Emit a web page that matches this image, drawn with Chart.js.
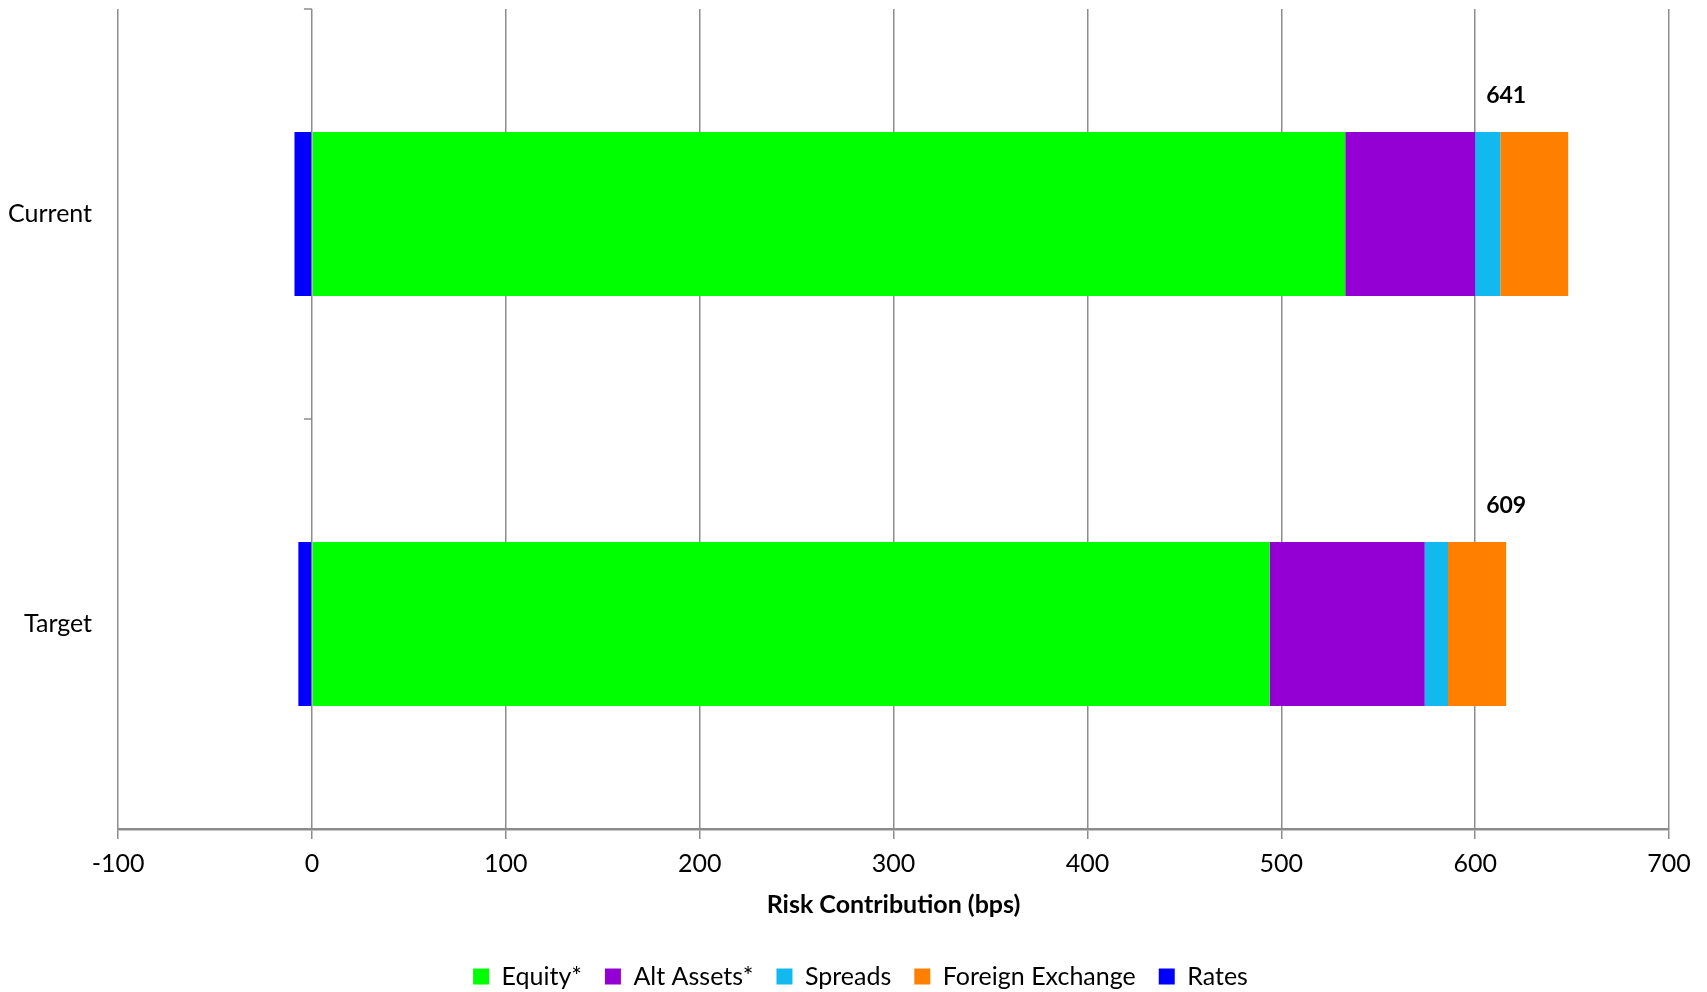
<!DOCTYPE html>
<html>
<head>
<meta charset="utf-8">
<script src="https://cdn.jsdelivr.net/npm/chart.js@4.4.1/dist/chart.umd.min.js"></script>
<style>
  html, body { margin: 0; padding: 0; background: #fff; }
  #wrap { width: 1707px; height: 992px; }
</style>
</head>
<body>
<div id="wrap"><canvas id="myChart"></canvas></div>
<script>
// data
var categories = ["Current", "Target"];
var equity = [533, 494];
var altAssets = [67, 80];
var spreads = [13, 12];
var foreignExchange = [35, 30];
var rates = [-9, -7];
var totals = ["641", "609"];
var totalPos = [616, 616];
var xMin = -100, xMax = 700, xStep = 100;

var gridGray = "#8c8c8c";
var font = "Lato";

// small tick marks on the zero line + total labels
var extras = {
  id: "extras",
  afterLayout: function(chart) {
    // legend sits a bit right of the canvas centre in the original
    chart.legend.left += 22;
    chart.legend.right += 22;
  },
  afterDatasetsDraw: function(chart) {
    var ctx = chart.ctx;
    var xs = chart.scales.x, ys = chart.scales.y;
    var x0 = xs.getPixelForValue(0);
    var marks = [ys.top, (ys.top + ys.bottom) / 2, ys.bottom];
    ctx.save();
    ctx.strokeStyle = gridGray;
    ctx.lineWidth = 1.5;
    marks.forEach(function(y) {
      ctx.beginPath();
      ctx.moveTo(x0 - 8, y);
      ctx.lineTo(x0, y);
      ctx.stroke();
    });
    var meta = chart.getDatasetMeta(0);
    ctx.fillStyle = "#000";
    ctx.font = "bold 23px " + font;
    ctx.textAlign = "center";
    ctx.textBaseline = "middle";
    meta.data.forEach(function(el, i) {
      ctx.fillText(totals[i], xs.getPixelForValue(totalPos[i]), el.y - el.height / 2 - 36);
    });
    ctx.restore();
  }
};

new Chart("myChart", {
  type: "bar",
  data: {
    labels: categories,
    datasets: [
      { label: "Equity*", data: equity, backgroundColor: "#00ff00" },
      { label: "Alt Assets*", data: altAssets, backgroundColor: "#9400d3" },
      { label: "Spreads", data: spreads, backgroundColor: "#12b9ee" },
      { label: "Foreign Exchange", data: foreignExchange, backgroundColor: "#ff8000" },
      { label: "Rates", data: rates, backgroundColor: "#0000ff" }
    ]
  },
  options: {
    indexAxis: "y",
    responsive: true,
    maintainAspectRatio: false,
    animation: false,
    categoryPercentage: 1,
    barPercentage: 0.4,
    layout: { padding: { top: 9, left: 8, right: 38, bottom: -7 } },
    scales: {
      x: {
        stacked: true,
        min: xMin,
        max: xMax,
        ticks: { stepSize: xStep, color: "#000", font: { family: font, size: 25 }, padding: 10 },
        grid: { color: gridGray, lineWidth: 1.5, tickLength: 10 },
        border: { color: gridGray, width: 2.5 },
        title: {
          display: true,
          text: "Risk Contribution (bps)",
          color: "#000",
          font: { family: font, size: 25, weight: "bold" },
          padding: { top: 1, bottom: 21 }
        }
      },
      y: {
        stacked: true,
        ticks: { color: "#000", font: { family: font, size: 25 }, padding: 0 },
        grid: { display: false, drawTicks: true, tickLength: 26 },
        border: { display: false },
        afterFit: function(scale) {
          scale.paddingTop = 0;
          scale.paddingBottom = 0;
        }
      }
    },
    plugins: {
      legend: {
        position: "bottom",
        labels: { color: "#000", font: { family: font, size: 25 }, boxWidth: 16, boxHeight: 16, padding: 23 }
      },
      tooltip: { enabled: false }
    }
  },
  plugins: [extras]
});
</script>
</body>
</html>
